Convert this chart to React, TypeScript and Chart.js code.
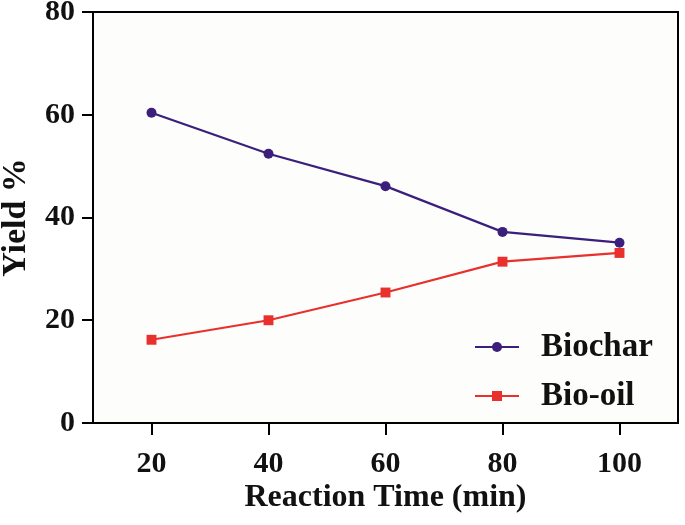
import { useEffect, useRef } from 'react'
import { Chart, registerables, Plugin } from 'chart.js'

Chart.register(...registerables);

const reactionTimes = [20, 40, 60, 80, 100];
const biocharYield = [60.4, 52.4, 46.1, 37.2, 35.1];
const bioOilYield = [16.2, 20.0, 25.4, 31.4, 33.1];
const yTicks = [0, 20, 40, 60, 80];

const PURPLE = '#3b1f7b';
const RED = '#e8302c';
const SERIF = '"Liberation Serif", "Times New Roman", serif';

// plot frame + faint background
const framePlugin: Plugin<'line'> = {
  id: 'frame',
  beforeDraw(chart) {
    const { ctx, chartArea: a } = chart;
    ctx.save();
    ctx.fillStyle = '#fdfdfc';
    ctx.fillRect(a.left, a.top, a.right - a.left, a.bottom - a.top);
    ctx.restore();
  },
  afterDraw(chart) {
    const { ctx, chartArea: a } = chart;
    ctx.save();
    ctx.strokeStyle = '#000';
    ctx.lineWidth = 2;
    ctx.strokeRect(a.left, a.top, a.right - a.left, a.bottom - a.top);
    ctx.restore();
  },
};

// legend inside the plot, bottom right, like the original figure
const innerLegend: Plugin<'line'> = {
  id: 'innerLegend',
  afterDatasetsDraw(chart) {
    const { ctx, chartArea: a } = chart;
    const rows = [a.bottom - 76, a.bottom - 27];
    ctx.save();
    chart.data.datasets.forEach((ds: any, i) => {
      const y = rows[i];
      const x0 = a.right - 203;
      const x1 = a.right - 159;
      ctx.strokeStyle = ds.borderColor;
      ctx.lineWidth = 2.2;
      ctx.beginPath();
      ctx.moveTo(x0, y);
      ctx.lineTo(x1, y);
      ctx.stroke();
      ctx.fillStyle = ds.borderColor;
      ctx.beginPath();
      if (ds.pointStyle === 'rect') {
        ctx.rect((x0 + x1) / 2 - 5, y - 5, 10, 10);
      } else {
        ctx.arc((x0 + x1) / 2, y, 5, 0, Math.PI * 2);
      }
      ctx.fill();
      ctx.fillStyle = '#111';
      ctx.font = `bold 33px ${SERIF}`;
      ctx.textAlign = 'left';
      ctx.textBaseline = 'middle';
      ctx.fillText(ds.label, a.right - 137, y);
    });
    ctx.restore();
  },
};

export default function App() {
  const canvasRef = useRef<HTMLCanvasElement>(null);
  const chartRef = useRef<Chart | null>(null);

  useEffect(() => {
    document.body.style.margin = '0';
    if (!canvasRef.current) return;
    chartRef.current?.destroy();
    chartRef.current = new Chart(canvasRef.current, {
      type: 'line',
      data: {
        datasets: [
          {
            label: 'Biochar',
            data: reactionTimes.map((t, i) => ({ x: t, y: biocharYield[i] })),
            borderColor: PURPLE,
            backgroundColor: PURPLE,
            borderWidth: 2.2,
            pointStyle: 'circle',
            pointRadius: 5,
            pointBorderWidth: 0,
          },
          {
            label: 'Bio-oil',
            data: reactionTimes.map((t, i) => ({ x: t, y: bioOilYield[i] })),
            borderColor: RED,
            backgroundColor: RED,
            borderWidth: 2.2,
            pointStyle: 'rect',
            pointRadius: 7,
            pointBorderWidth: 0,
          },
        ],
      },
      options: {
        responsive: false,
        animation: false,
        layout: { padding: { top: 0, right: 5, left: 0, bottom: 0 } },
        plugins: {
          legend: { display: false },
          tooltip: { enabled: false },
        },
        scales: {
          x: {
            type: 'linear',
            min: 10,
            max: 110,
            afterBuildTicks: (s) => { s.ticks = reactionTimes.map(v => ({ value: v })); },
            afterFit: (s) => { s.height = 102; },
            ticks: {
              color: '#111',
              padding: 11,
              font: { family: SERIF, size: 30, weight: 'bold' },
            },
            grid: { drawOnChartArea: false, drawTicks: true, tickLength: 12, color: '#000', lineWidth: 2 },
            border: { display: true, color: '#000', width: 2 },
            title: {
              display: true,
              text: 'Reaction Time (min)',
              color: '#111',
              padding: { top: 0, bottom: 8 },
              font: { family: SERIF, size: 32, weight: 'bold' },
            },
          },
          y: {
            min: 0,
            max: 80,
            afterBuildTicks: (s) => { s.ticks = yTicks.map(v => ({ value: v })); },
            afterFit: (s: any) => { s.width = 93; s.paddingTop = 12; s.paddingBottom = 0; },
            ticks: {
              color: '#111',
              padding: 7,
              font: { family: SERIF, size: 30, weight: 'bold' },
            },
            grid: { drawOnChartArea: false, drawTicks: true, tickLength: 11, color: '#000', lineWidth: 2 },
            border: { display: true, color: '#000', width: 2 },
            title: {
              display: true,
              text: 'Yield %',
              color: '#111',
              padding: 0,
              font: { family: SERIF, size: 34, weight: 'bold', lineHeight: 0.95 },
            },
          },
        },
      },
      plugins: [framePlugin, innerLegend],
    });
    return () => {
      chartRef.current?.destroy();
      chartRef.current = null;
    };
  }, []);

  return (
    <div style={{ width: 685, height: 525, background: '#fff' }}>
      <canvas ref={canvasRef} width={685} height={525} />
    </div>
  );
}
